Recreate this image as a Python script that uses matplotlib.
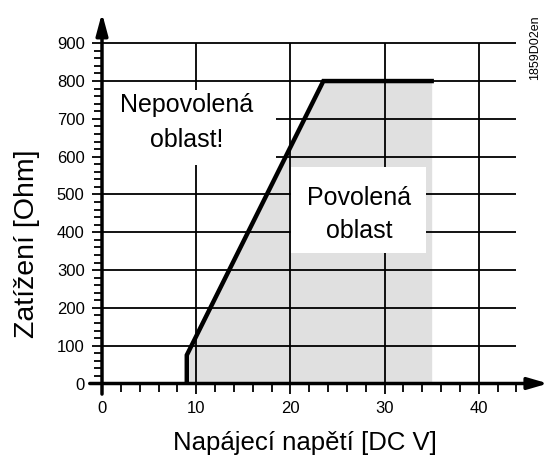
import matplotlib
matplotlib.use("Agg")
import matplotlib.pyplot as plt
from matplotlib.patches import Rectangle
import numpy as np

plt.rcParams['font.family'] = ['Liberation Sans', 'DejaVu Sans']

# boundary of the allowed region (voltage [DC V], load [Ohm])
voltage = [9, 9, 23.5, 35]
load = [0, 75, 800, 800]

x_major = [0, 10, 20, 30, 40]
y_major = [0, 100, 200, 300, 400, 500, 600, 700, 800, 900]

fig = plt.figure(figsize=(5.48, 4.65), dpi=100)
ax = fig.add_axes([102 / 548, 81.5 / 465, 446 / 548, 370.5 / 465])
ax.set_xlim(0, 47.35)
ax.set_ylim(0, 980)
for s in ax.spines.values():
    s.set_visible(False)

# grey allowed area
ax.fill_between(voltage + [35], load + [0], 0, color="#e0e0e0", lw=0, zorder=1)
# grid
ax.hlines(y_major[1:], 0, 44, color="black", lw=1.3, zorder=2)
ax.vlines(x_major[1:], 0, 900, color="black", lw=1.3, zorder=2)

# white label boxes
ax.add_patch(Rectangle((0.1, 578), 18.4, 198, fc="white", ec="none", zorder=3))
ax.add_patch(Rectangle((20.1, 345), 14.3, 228, fc="white", ec="none", zorder=3))

ax.plot(voltage, load, color="black", lw=3.2, solid_joinstyle="miter", zorder=4)

ax.text(9.0, 690, "Nepovolená\noblast!", ha="center", va="center",
        fontsize=18, linespacing=1.55, zorder=5)
ax.text(27.3, 447, "Povolená\noblast", ha="center", va="center",
        fontsize=18, linespacing=1.5, zorder=5)

# axes with arrows
ax.annotate("", xy=(47.35, 0), xytext=(-1.3, 0), xycoords="data",
            arrowprops=dict(arrowstyle="-|>,head_length=1.2,head_width=0.35",
                            color="black", lw=2.5, shrinkA=0, shrinkB=0),
            annotation_clip=False, zorder=6)
ax.annotate("", xy=(0, 980), xytext=(0, -28), xycoords="data",
            arrowprops=dict(arrowstyle="-|>,head_length=1.3,head_width=0.35",
                            color="black", lw=2.5, shrinkA=0, shrinkB=0),
            annotation_clip=False, zorder=6)

ax.set_xticks(x_major)
ax.set_xticks(np.arange(2, 45, 2), minor=True)
ax.set_yticks(y_major)
ax.set_yticks(np.arange(20, 900, 20), minor=True)
ax.tick_params(which="major", direction="out", length=7.5, width=1.3,
               labelsize=12, pad=5)
ax.tick_params(which="minor", direction="out", length=5.5, width=1.3)

ax.set_xlabel("Napájecí napětí [DC V]", fontsize=18.5)
ax.xaxis.set_label_coords(0.454, -0.128)
ax.set_ylabel("Zatížení [Ohm]", fontsize=20.5)
ax.yaxis.set_label_coords(-0.138, 0.3765)

fig.text(535 / 548, 1 - 48 / 465, "1859D02en", rotation=90, fontsize=9,
         ha="center", va="center")

fig.savefig("out.png", dpi=100)
